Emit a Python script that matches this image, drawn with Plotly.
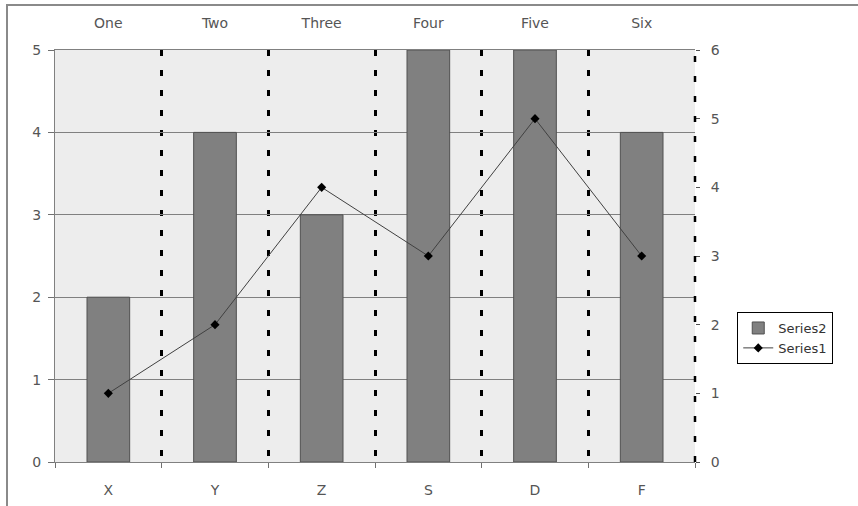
import plotly.graph_objects as go

bottom_cats = ["X", "Y", "Z", "S", "D", "F"]
top_cats = ["One", "Two", "Three", "Four", "Five", "Six"]
series2 = [2, 4, 3, 5, 5, 4]   # bars, left axis
series1 = [1, 2, 4, 3, 5, 3]   # line, right axis
left_ticks = [0, 1, 2, 3, 4, 5]
right_ticks = [0, 1, 2, 3, 4, 5, 6]

FONT = "DejaVu Sans, Verdana, sans-serif"
TXT = "#555555"

fig = go.Figure()
fig.add_trace(go.Bar(
    x=bottom_cats, y=series2, name="Series2", width=0.4,
    marker=dict(color="#808080", line=dict(color="#505050", width=1)),
    xaxis="x", yaxis="y",
))
fig.add_trace(go.Scatter(
    x=top_cats, y=series1, name="Series1", mode="lines+markers",
    line=dict(color="#404040", width=1),
    marker=dict(symbol="diamond", size=7, color="black"),
    xaxis="x2", yaxis="y2",
))

fig.update_layout(
    width=858, height=506,
    margin=dict(l=55, r=163, t=50, b=44, autoexpand=False),
    paper_bgcolor="white",
    plot_bgcolor="#ededed",
    font=dict(family=FONT, size=13, color=TXT),
    xaxis=dict(
        type="category", categoryorder="array", categoryarray=bottom_cats,
        range=[-0.5, 5.5], tickson="boundaries",
        showgrid=True, gridcolor="black", gridwidth=2.5, griddash="6px,14px",
        ticks="outside", ticklen=5, tickcolor="#707070",
        showline=True, linecolor="#808080", linewidth=1,
        ticklabelstandoff=15, tickfont=dict(size=14),
        zeroline=False, fixedrange=True,
    ),
    xaxis2=dict(
        type="category", categoryorder="array", categoryarray=top_cats,
        range=[-0.5, 5.5], overlaying="x", side="top", anchor="y",
        showgrid=False, ticks="", showline=True, linecolor="#808080", linewidth=1,
        ticklabelstandoff=15, tickfont=dict(size=14),
    ),
    yaxis=dict(
        range=[0, 5], tickvals=left_ticks,
        showgrid=True, gridcolor="#808080", gridwidth=1,
        ticks="outside", ticklen=6, tickcolor="#707070",
        showline=True, linecolor="#808080", linewidth=1,
        zeroline=False, tickfont=dict(size=14), ticklabelstandoff=4,
    ),
    yaxis2=dict(
        range=[0, 6], tickvals=right_ticks, overlaying="y", side="right", anchor="x",
        showgrid=False, ticks="outside", ticklen=4, tickcolor="#505050",
        showline=False, zeroline=False, tickfont=dict(size=14), ticklabelstandoff=8,
    ),
    legend=dict(
        x=1.066, y=0.364, xanchor="left", yanchor="top",
        bordercolor="black", borderwidth=1, bgcolor="white",
        font=dict(size=13, color="#333333"), traceorder="normal",
        itemwidth=30, tracegroupgap=0,
    ),
    shapes=[
        dict(type="line", xref="x domain", yref="y domain", x0=1, x1=1, y0=0, y1=1,
             line=dict(color="black", width=2.5, dash="6px,14px"), layer="above"),
        dict(type="rect", xref="paper", yref="paper", x0=-0.075, x1=1.3, y0=-0.2, y1=1.109,
             line=dict(color="#8a8a8a", width=2), fillcolor="rgba(0,0,0,0)", layer="below"),
    ],
)

fig.write_html("out.html", config={"displayModeBar": False},
               post_script="document.body.style.margin='0';")
